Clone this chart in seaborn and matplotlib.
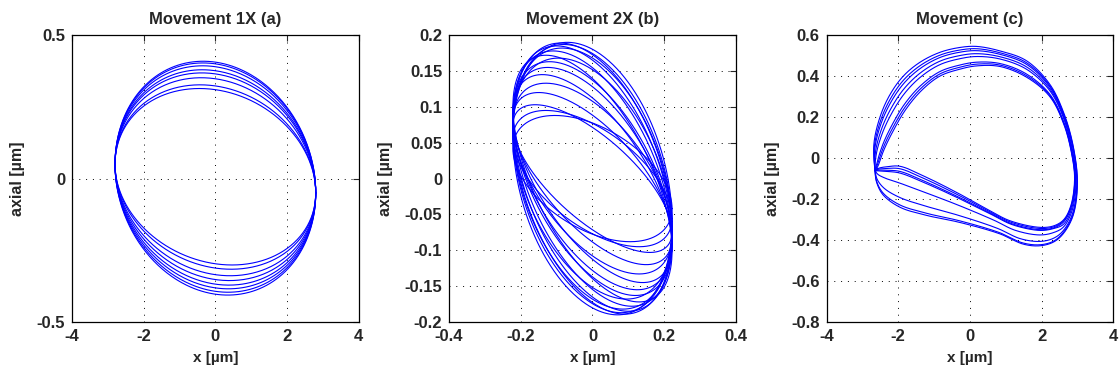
import numpy as np
import pandas as pd
import matplotlib
matplotlib.use("Agg")
import matplotlib.pyplot as plt
from matplotlib.ticker import FuncFormatter, MultipleLocator
import seaborn as sns

# ---- (a) 1X orbit: one loop per revolution ---------------------------------
x1_amp = 2.8                      # horizontal half-width of the 1X orbit [um]
x1_tip_axial = 0.05               # axial value at the left tip [um]
top1_peak = [0.406, 0.400, 0.390, 0.376, 0.365, 0.348, 0.323, 0.310]
bot1_peak = [-0.403, -0.393, -0.381, -0.368, -0.352, -0.335, -0.312, -0.297]

# ---- (b) 2X orbit: loop peaks (height and where it is reached) -------------
x2_amp = 0.222                    # horizontal half-width of the 2X orbit [um]
top2_peak_y = [0.190, 0.189, 0.187, 0.185, 0.182, 0.178, 0.172, 0.168,
               0.163, 0.155, 0.145, 0.133, 0.120, 0.103, 0.088, 0.095]
top2_peak_x = [-0.070, -0.090, -0.080, -0.100, -0.085, -0.110, -0.130, -0.095,
               -0.120, -0.125, -0.140, -0.130, -0.150, -0.160, -0.105, -0.130]

# ---- (c) raw orbit: outermost and innermost loop, clockwise from the kink ---
outer_x = [-2.65, -2.68, -2.51, -2.23, -1.86, -1.40, -0.84, -0.28, 0.19, 0.84,
           1.58, 2.23, 2.62, 2.88, 3.00, 2.88, 2.60, 2.33, 1.95, 1.49,
           0.84, -0.28, -1.20, -1.95, -2.42, -2.60]
outer_y = [-0.062, 0.068, 0.200, 0.310, 0.400, 0.467, 0.516, 0.540, 0.545, 0.523,
           0.475, 0.360, 0.220, 0.060, -0.120, -0.280, -0.370, -0.410, -0.428, -0.420,
           -0.370, -0.314, -0.280, -0.240, -0.180, -0.120]
inner_x = [-2.62, -2.56, -2.40, -2.15, -1.80, -1.35, -0.84, -0.28, 0.19, 0.84,
           1.58, 2.23, 2.62, 2.84, 2.92, 2.82, 2.62, 2.35, 1.95, 1.12,
           0.56, -0.28, -1.21, -1.95, -2.30, -2.55]
inner_y = [-0.060, -0.037, 0.040, 0.130, 0.235, 0.330, 0.400, 0.434, 0.450, 0.447,
           0.395, 0.300, 0.165, 0.020, -0.100, -0.230, -0.300, -0.330, -0.338, -0.306,
           -0.257, -0.176, -0.094, -0.040, -0.042, -0.050]
# stations on the upper arc (1), on the lower path (0) or shared (0.5)
station_side = [0.5, 1, 1, 1, 1, 1, 1, 1, 1, 1,
                1, 1, 1, 0.5, 0.5, 0.5, 0.5, 0, 0, 0,
                0, 0, 0, 0, 0, 0]
loop_top_c = [0.547, 0.534, 0.523, 0.506, 0.490, 0.458, 0.447, 0.437]
loop_low_c = [-0.244, -0.233, -0.197, -0.127, -0.078, -0.070, -0.057, -0.045]

titles = ["Movement 1X (a)", "Movement 2X (b)", "Movement (c)"]
xlims = [(-4, 4), (-0.4, 0.4), (-4, 4)]
ylims = [(-0.5, 0.5), (-0.2, 0.2), (-0.8, 0.6)]
xsteps = [2, 0.2, 2]
ysteps = [0.5, 0.05, 0.2]


def orbit_1x(k, t):
    b = np.where(np.sin(t) >= 0, top1_peak[k], -bot1_peak[k])
    x = x1_amp * np.cos(t)
    y = b * np.sin(t) - x1_tip_axial * np.cos(t)
    return x, y


def orbit_2x(j, s):
    phi = np.arcsin(top2_peak_x[j] / x2_amp)
    x = x2_amp * np.cos(s)
    y = top2_peak_y[j] * np.sin(s + phi)
    return x, y


def closed_spline(P, n=24, scale=(8.0, 1.4)):
    """Centripetal Catmull-Rom curve through the closed ring of points P."""
    P = np.asarray(P, float)
    sc = np.asarray(scale)
    N = len(P)
    out = []

    def knot(ti, a, b):
        return ti + max(np.hypot(*((b - a) / sc)), 1e-6) ** 0.5

    for i in range(N):
        p0, p1, p2, p3 = P[i - 1], P[i], P[(i + 1) % N], P[(i + 2) % N]
        t0 = 0.0
        t1 = knot(t0, p0, p1)
        t2 = knot(t1, p1, p2)
        t3 = knot(t2, p2, p3)
        t = np.linspace(t1, t2, n, endpoint=False)[:, None]
        a1 = (t1 - t) / (t1 - t0) * p0 + (t - t0) / (t1 - t0) * p1
        a2 = (t2 - t) / (t2 - t1) * p1 + (t - t1) / (t2 - t1) * p2
        a3 = (t3 - t) / (t3 - t2) * p2 + (t - t2) / (t3 - t2) * p3
        b1 = (t2 - t) / (t2 - t0) * a1 + (t - t0) / (t2 - t0) * a2
        b2 = (t3 - t) / (t3 - t1) * a2 + (t - t1) / (t3 - t1) * a3
        out.append((t2 - t) / (t2 - t1) * b1 + (t - t1) / (t2 - t1) * b2)
    C = np.vstack(out)
    return np.vstack([C, C[:1]])


t_full = np.linspace(0, 2 * np.pi, 480)
rows_a = [pd.DataFrame({"x": orbit_1x(k, t_full)[0], "y": orbit_1x(k, t_full)[1], "loop": k})
          for k in range(len(top1_peak))]
rows_b = [pd.DataFrame({"x": orbit_2x(j, t_full)[0], "y": orbit_2x(j, t_full)[1], "loop": j})
          for j in range(len(top2_peak_y))]

outer = np.column_stack([outer_x, outer_y])
inner = np.column_stack([inner_x, inner_y])
side = np.asarray(station_side)[:, None]
rows_c = []
for k in range(len(loop_top_c)):
    w_up = (loop_top_c[0] - loop_top_c[k]) / (loop_top_c[0] - loop_top_c[-1])
    w_lo = (loop_low_c[0] - loop_low_c[k]) / (loop_low_c[0] - loop_low_c[-1])
    w = side * w_up + (1 - side) * w_lo
    ring = (1 - w) * outer + w * inner
    curve = closed_spline(ring)
    rows_c.append(pd.DataFrame({"x": curve[:, 0], "y": curve[:, 1], "loop": k}))

frames = [pd.concat(rows_a), pd.concat(rows_b), pd.concat(rows_c)]

sns.set_style("white")
plt.rcParams["font.family"] = ["Liberation Sans", "DejaVu Sans"]
plt.rcParams["axes.unicode_minus"] = False

fig = plt.figure(figsize=(11.2, 3.74), dpi=100)
lefts = [0.0643, 0.401, 0.738]
for i in range(3):
    ax = fig.add_axes([lefts[i], 0.139, 0.256, 0.767])
    sns.lineplot(data=frames[i], x="x", y="y", units="loop", estimator=None,
                 sort=False, color="#0000ff", lw=0.8, ax=ax, legend=False)
    ax.set_xlim(*xlims[i])
    ax.set_ylim(*ylims[i])
    ax.xaxis.set_major_locator(MultipleLocator(xsteps[i]))
    ax.yaxis.set_major_locator(MultipleLocator(ysteps[i]))
    fmt = FuncFormatter(lambda v, p: "{:g}".format(round(v, 6)))
    ax.xaxis.set_major_formatter(fmt)
    ax.yaxis.set_major_formatter(fmt)
    ax.grid(True, color="black", linestyle=(0, (1, 6)), linewidth=0.7)
    ax.tick_params(direction="in", top=True, right=True, length=4, width=0.8,
                   labelsize=12, pad=5)
    for lab in ax.get_xticklabels() + ax.get_yticklabels():
        lab.set_fontweight("bold")
    for sp in ax.spines.values():
        sp.set_color("black")
        sp.set_linewidth(0.9)
    ax.set_xlabel("x [\u00b5m]", fontsize=11, fontweight="bold", labelpad=5)
    ax.set_ylabel("axial [\u00b5m]", fontsize=11.5, fontweight="bold", labelpad=8)
    ax.set_title(titles[i], fontsize=12, fontweight="bold", pad=8)

fig.savefig("out.png", dpi=100)
